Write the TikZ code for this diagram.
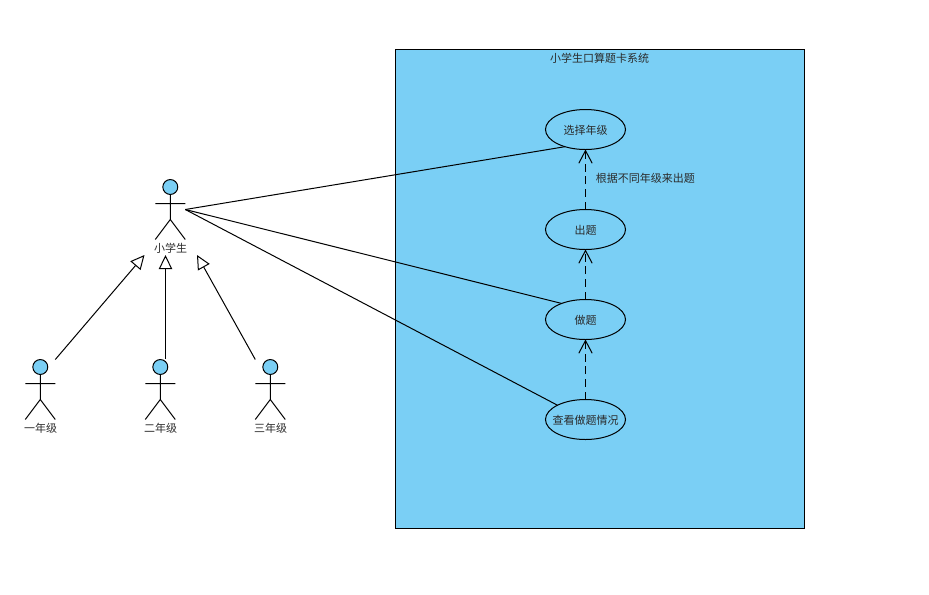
\documentclass[tikz,border=0pt]{standalone}
\usepackage{fontspec}
\setmainfont{Noto Sans CJK SC}
\usetikzlibrary{arrows.meta,shapes.geometric}
\definecolor{uml}{HTML}{7ACFF5}
\definecolor{umltext}{HTML}{2A2A2A}
\newcommand{\uctext}[1]{\makebox[0pt]{#1}}
\tikzset{
  x=0.75pt,y=-0.75pt,
  line/.style={black,line width=0.75pt},
  lbl/.style={font=\fontsize{8.25pt}{10pt}\selectfont,text=umltext,inner sep=0pt},
  usecase/.style={ellipse,draw=black,line width=0.75pt,minimum width=60pt,minimum height=30pt,inner sep=0pt,outer sep=0pt,lbl},
  uclabel/.style={lbl},
  actorbox/.style={rectangle,minimum width=22.5pt,minimum height=45pt,inner sep=0pt,outer sep=0pt},
  assoc/.style={line},
  gener/.style={line,-{Triangle[open,fill=white,length=10.5pt,width=10pt,line width=0.75pt]}},
  depend/.style={line,dash pattern=on 6pt off 3.5pt,-{Straight Barb[length=9.5pt,width=10pt,line width=0.75pt]}},
}
\newcommand{\umlactor}[3]{% name, centre x, top y
  \node[actorbox] (#1) at (#2,#3+30) {};
  \draw[line,fill=uml] (#2,#3+7.5) circle[radius=5.6pt];
  \draw[line] (#2,#3+15) -- (#2,#3+40) (#2-15,#3+24) -- (#2+15,#3+24)
    (#2-15,#3+60) -- (#2,#3+40) -- (#2+15,#3+60);
}
\begin{document}
\begin{tikzpicture}
\useasboundingbox (0,0) rectangle (929,594);
\node[rectangle,draw=black,line width=0.7pt,fill=uml,minimum width=306.75pt,minimum height=359.25pt,inner sep=0pt] (sys) at (600,289) {};
\node[lbl] (systitle) at (599.5,58.5) {小学生口算题卡系统};
\node[usecase,text depth=0pt,yshift=0pt] (uc1) at (585.5,129.5) {};
\node[usecase] (uc2) at (585.5,229.5) {};
\node[usecase] (uc3) at (585.5,319.5) {};
\node[usecase] (uc4) at (585.5,419.5) {};
\node[uclabel] (uc1t) at (585.5,130.2) {选择年级};
\node[uclabel] (uc2t) at (585.5,230.2) {出题};
\node[uclabel] (uc3t) at (585.5,320.2) {做题};
\node[uclabel] (uc4t) at (585.5,420.2) {查看做题情况};
\node[lbl,anchor=west] (deplabel) at (595.5,178.5) {根据不同年级来出题};
\umlactor{pupil}{170.3}{179.5}
\umlactor{g1}{40.3}{359.5}
\umlactor{g2}{160.3}{359.5}
\umlactor{g3}{270.3}{359.5}
\node[lbl] (pupillabel) at (170.5,248.5) {小学生};
\node[lbl] (g1label) at (40.5,428.5) {一年级};
\node[lbl] (g2label) at (160.5,428.5) {二年级};
\node[lbl] (g3label) at (270.5,428.5) {三年级};
\coordinate (t1) at (144.5,255);
\coordinate (t2) at (165.5,255);
\coordinate (t3) at (197,255);
\coordinate (s2) at (165.5,359);
\draw[gener] (g1.north east) -- (t1);
\draw[gener] (s2) -- (t2);
\draw[gener] (g3.north west) -- (t3);
\draw[assoc] (pupil.east) -- (uc1.220.5);
\draw[assoc] (pupil.east) -- (uc3.146);
\draw[assoc] (pupil.east) -- (uc4.153.8);
\draw[depend] (uc2.north) -- (uc1.south);
\draw[depend] (uc3.north) -- (uc2.south);
\draw[depend] (uc4.north) -- (uc3.south);
\end{tikzpicture}
\end{document}
